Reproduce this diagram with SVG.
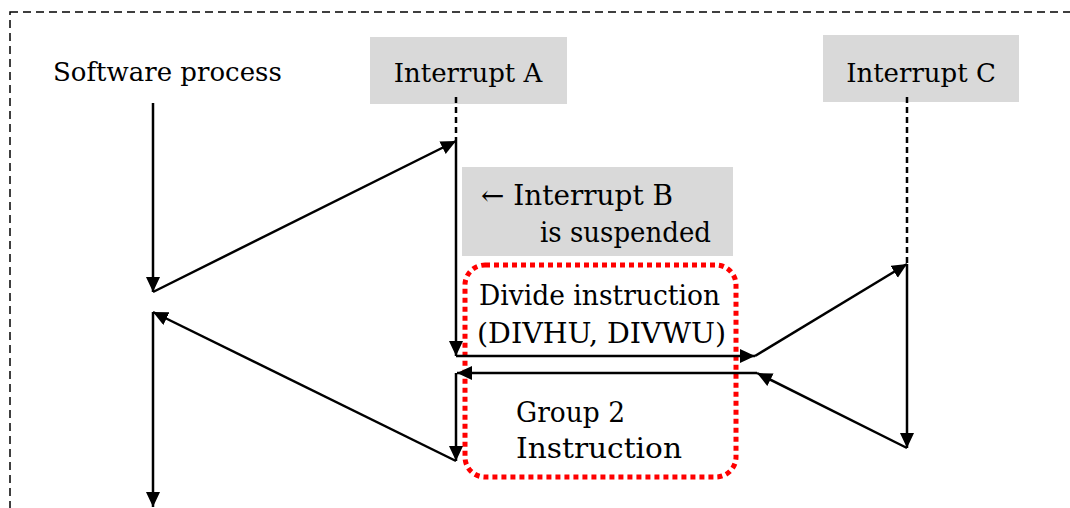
<svg xmlns="http://www.w3.org/2000/svg" width="1070" height="508" viewBox="0 0 1070 508">
<defs>
<style>
.t{font-family:"DejaVu Serif","Liberation Serif",serif;font-size:26px;fill:#000}
.b{font-size:27px}
.box{fill:#d9d9d9}
.ar{stroke:#000;stroke-width:2.5;fill:none;marker-end:url(#ah)}
.dl{stroke:#000;stroke-width:2.5;fill:none;stroke-dasharray:6 4}
</style>
<marker id="ah" markerUnits="userSpaceOnUse" markerWidth="16" markerHeight="16" refX="15" refY="7" orient="auto">
<path d="M0,0 L15,7 L0,14 z" fill="#000"/>
</marker>
</defs>
<rect width="1070" height="508" fill="#fff"/>
<rect id="frame" x="10" y="12" width="1090" height="530" fill="none" stroke="#000" stroke-width="1.5" stroke-dasharray="8 5"/>
<g id="software-process"><text class="t" x="53" y="81">Software process</text></g>
<g id="interrupt-a"><rect class="box" x="370" y="37" width="197" height="67"/><text class="t" x="468" y="82" text-anchor="middle">Interrupt A</text></g>
<g id="interrupt-c"><rect class="box" x="823" y="35" width="196" height="67"/><text class="t" x="921" y="82" text-anchor="middle">Interrupt C</text></g>
<g id="interrupt-b"><rect class="box" x="462" y="167" width="271" height="89"/><text class="t b" x="481" y="205" textLength="192" lengthAdjust="spacingAndGlyphs">← Interrupt B</text><text class="t b" x="540" y="242" textLength="171" lengthAdjust="spacingAndGlyphs">is suspended</text></g>
<g id="divide-group"><rect x="465" y="265" width="271" height="212" rx="20" fill="none" stroke="#ff0000" stroke-width="5" stroke-dasharray="5 4"/><text class="t b" x="479" y="305" textLength="241" lengthAdjust="spacingAndGlyphs">Divide instruction</text><text class="t b" x="477" y="343" textLength="249" lengthAdjust="spacingAndGlyphs">(DIVHU, DIVWU)</text><text class="t b" x="516" y="422" textLength="109" lengthAdjust="spacingAndGlyphs">Group 2</text><text class="t b" x="516" y="458" textLength="166" lengthAdjust="spacingAndGlyphs">Instruction</text></g>
<g id="connectors">
<line class="ar" x1="153" y1="103" x2="153" y2="292"/>
<line class="ar" x1="153" y1="292" x2="456" y2="141"/>
<line class="dl" x1="456" y1="97" x2="456" y2="141"/>
<line class="ar" x1="456" y1="141" x2="456" y2="356"/>
<line class="ar" x1="456" y1="356" x2="755" y2="356"/>
<line class="ar" x1="755" y1="356" x2="907" y2="264"/>
<line class="dl" x1="907" y1="97" x2="907" y2="264"/>
<line class="ar" x1="907" y1="264" x2="907" y2="448"/>
<line class="ar" x1="907" y1="448" x2="757" y2="373"/>
<line class="ar" x1="757" y1="373" x2="457" y2="373"/>
<line class="ar" x1="456" y1="373" x2="456" y2="461"/>
<line class="ar" x1="456" y1="461" x2="153" y2="312"/>
<line class="ar" x1="153" y1="312" x2="153" y2="507"/>
</g>
</svg>
